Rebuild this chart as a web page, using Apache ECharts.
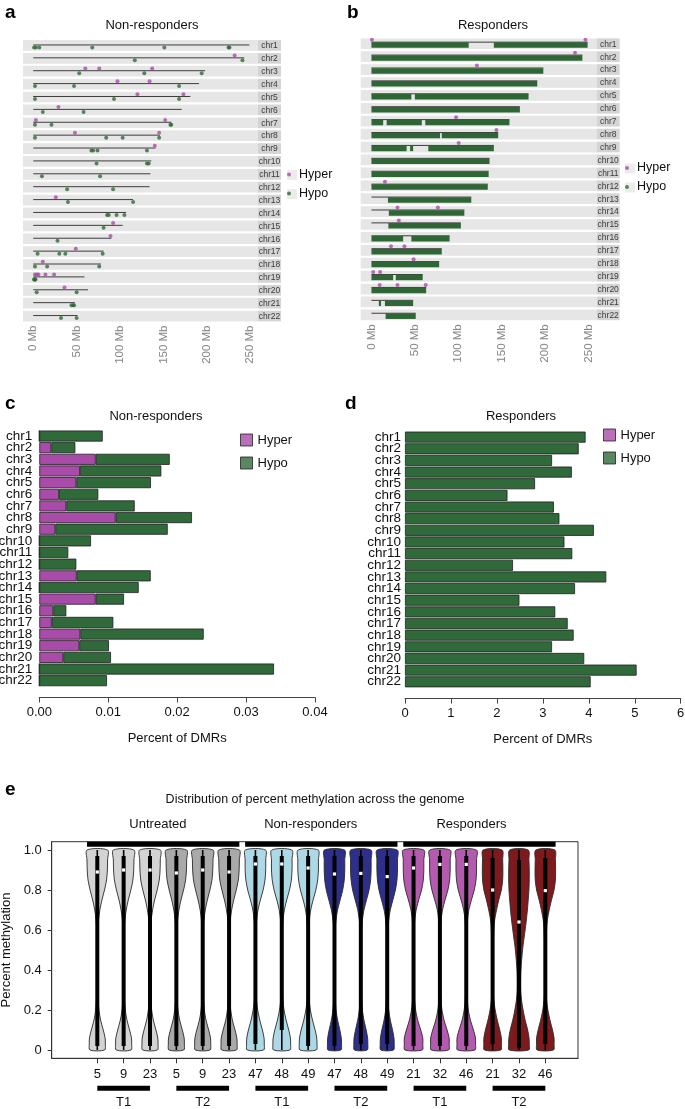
<!DOCTYPE html>
<html><head><meta charset="utf-8">
<script src="https://cdn.jsdelivr.net/npm/echarts@6/dist/echarts.min.js"></script>
<style>html,body{margin:0;padding:0;background:#fff}#c{width:685px;height:1109px}</style>
</head><body><div id="c"></div>
<script>
// ---------------- data ----------------
const chromosomes = ['chr1','chr2','chr3','chr4','chr5','chr6','chr7','chr8','chr9','chr10','chr11','chr12','chr13','chr14','chr15','chr16','chr17','chr18','chr19','chr20','chr21','chr22'];
const chromLengthMb = [249,243,198,191,181,171,159,146,141,136,135,134,115,107,103,90,81,78,59,63,48,51];
const mbTicks = [0,50,100,150,200,250];

// panel a: non-responders DMR positions (chromosome, Mb)
const nrHyperDMR = [['chr2',232],['chr3',60],['chr3',76],['chr3',137],['chr4',97],['chr4',134],['chr5',120],['chr5',173],['chr6',29],['chr7',3],['chr7',152],['chr8',48],['chr8',145],['chr9',140],['chr13',26],['chr15',92],['chr16',89],['chr17',49],['chr18',11],['chr19',2],['chr19',4],['chr19',6],['chr19',14],['chr19',24],['chr20',36]];
const nrHypoDMR = [['chr1',1],['chr1',3],['chr1',7],['chr1',68],['chr1',151],['chr1',225],['chr1',226],['chr2',117],['chr2',241],['chr3',53],['chr3',128],['chr3',194],['chr4',2],['chr4',47],['chr4',168],['chr5',2],['chr5',93],['chr5',168],['chr6',11],['chr6',58],['chr7',2],['chr7',21],['chr7',158],['chr7',159],['chr8',2],['chr8',84],['chr8',103],['chr8',145],['chr9',67],['chr9',69],['chr9',74],['chr9',131],['chr10',73],['chr10',131],['chr10',133],['chr11',10],['chr11',77],['chr12',39],['chr12',92],['chr13',40],['chr13',115],['chr14',85],['chr14',87],['chr14',96],['chr14',105],['chr15',81],['chr16',28],['chr17',5],['chr17',30],['chr17',37],['chr17',80],['chr18',2],['chr18',16],['chr18',76],['chr19',1],['chr19',1.5],['chr19',2],['chr19',2.5],['chr20',4],['chr20',50],['chr21',44],['chr21',46],['chr21',47],['chr22',32],['chr22',50]];

// panel b: responders hyper DMRs and dense hypo DMR runs (chromosome, start Mb, end Mb)
const rHyperDMR = [['chr1',0.5],['chr1',246.5],['chr2',234.5],['chr3',121.5],['chr7',97.5],['chr8',144],['chr9',100.5],['chr12',15.5],['chr14',30],['chr14',76.5],['chr15',31.5],['chr17',22.5],['chr17',38],['chr18',48.5],['chr19',2],['chr19',10],['chr20',9.5],['chr20',30],['chr20',62.5]];
const rHypoRuns = [['chr1',0,112],['chr1',141,249],['chr2',0,243],['chr3',0,198],['chr4',0,191],['chr5',0,46],['chr5',50,181],['chr6',0,171],['chr7',0,13.5],['chr7',17.5,58],['chr7',62,159],['chr8',0,79],['chr8',81,146],['chr9',0,40.5],['chr9',44.5,48],['chr9',65.5,141],['chr10',0,136],['chr11',0,135],['chr12',0,134],['chr13',19,115],['chr14',20,107],['chr15',19.5,103],['chr16',0,36.5],['chr16',46,90],['chr17',0,81],['chr18',0,78],['chr19',0,25],['chr19',28,59],['chr20',0,63],['chr21',8.5,11],['chr21',15.5,48],['chr22',16.3,51]];

// panel c: non-responders percent of DMRs
const nrHyperPct = [0,0.00174,0.00818,0.0059,0.00537,0.00286,0.00392,0.01108,0.00232,0,0,0,0.00542,0,0.00818,0.00203,0.0018,0.00595,0.0058,0.00348,0,0];
const nrHypoPct  = [0.0092,0.00349,0.01074,0.0118,0.01083,0.0057,0.00992,0.01107,0.01631,0.0075,0.0042,0.00537,0.01074,0.01442,0.00411,0.00189,0.00894,0.0179,0.0043,0.00692,0.03405,0.00982];
// panel d: responders percent of DMRs
const rHyperPct = [0,0,0,0,0,0,0,0,0,0,0,0,0,0,0,0,0,0,0,0,0,0];
const rHypoPct  = [3.93,3.78,3.2,3.63,2.83,2.23,3.24,3.36,4.11,3.47,3.64,2.35,4.38,3.70,2.49,3.27,3.54,3.67,3.2,3.90,5.04,4.04];

// panel e: violins
const sampleIds = ['5','9','23','5','9','23','47','48','49','47','48','49','21','32','46','21','32','46'];
const violinGroupColors = ['#d3d3d3','#a9a9a9','#add8e6','#2d2f8a','#b45aaf','#7d1a1d'];
const violinMedian = [0.89,0.90,0.90,0.885,0.90,0.89,0.93,0.93,0.91,0.88,0.883,0.867,0.91,0.928,0.928,0.80,0.64,0.797];
const violinQ1 = [0.02,0.02,0.02,0.02,0.02,0.02,0.03,0.10,0.02,0.02,0.03,0.03,0.02,0.02,0.02,0.03,0.01,0.03];
const violinQ3 = [0.97,0.97,0.97,0.97,0.97,0.97,0.97,0.97,0.97,0.97,0.97,0.97,0.97,0.97,0.97,0.96,0.95,0.96];
const densityLevels = [0,0.03,0.06,0.1,0.15,0.2,0.25,0.3,0.4,0.5,0.6,0.65,0.7,0.75,0.8,0.85,0.9,0.95,1.0];
const densityProfiles = {
  untreated: [0.72,0.78,0.76,0.58,0.32,0.16,0.08,0.05,0.04,0.04,0.06,0.12,0.25,0.45,0.70,0.90,0.98,1.00,1.00],
  nrT1:      [0.80,0.86,0.84,0.68,0.42,0.22,0.10,0.05,0.04,0.04,0.06,0.12,0.25,0.48,0.75,0.93,1.00,1.00,0.98],
  nrT2:      [0.62,0.68,0.66,0.52,0.30,0.15,0.08,0.05,0.04,0.04,0.06,0.15,0.30,0.55,0.80,0.95,1.00,1.00,0.98],
  rT1:       [0.85,0.90,0.90,0.70,0.40,0.20,0.10,0.05,0.04,0.04,0.06,0.12,0.25,0.50,0.78,0.95,1.00,1.00,1.00],
  rT2:       [0.80,0.85,0.85,0.70,0.45,0.25,0.12,0.07,0.05,0.06,0.12,0.20,0.38,0.60,0.85,0.98,1.00,0.98,0.92],
  rT2wide:   [0.95,1.00,0.98,0.85,0.60,0.40,0.25,0.18,0.20,0.35,0.60,0.72,0.82,0.90,0.97,1.00,1.00,0.97,0.90]
};
const violinProfileOf = ['untreated','untreated','untreated','untreated','untreated','untreated','nrT1','nrT1','nrT1','nrT2','nrT2','nrT2','rT1','rT1','rT1','rT2','rT2wide','rT2'];
const groupNames = ['Untreated','Non-responders','Responders'];
const groupSpans = [[1,6],[7,12],[13,18]];
const groupLabelPos = [3.3,9.1,15.2];
const timeNames = ['T1','T2','T1','T2','T1','T2'];
const timeSpans = [[1,3],[4,6],[7,9],[10,12],[13,15],[16,18]];

// ---------------- styling ----------------
const FONT = 'Liberation Sans';
const HYPER = '#a94ba8', HYPO = '#30693a';
const BORDER = '#1f1f1f';

const chart = echarts.init(document.getElementById('c'), null, {width:685, height:1109});

function rowRenderer(lineOff){
  return function(params, api){
    const len = api.value(0), i = api.value(1);
    const cs = params.coordSys;
    const c0 = api.coord([0, i]);
    const cEnd = api.coord([len, i]);
    const band = api.size([0, 1])[1];
    const yTop = c0[1] - band/2 + 1.1, h = band - 2.2;
    return {type:'group', children:[
      {type:'rect', shape:{x:cs.x, y:yTop, width:cs.width, height:h}, style:{fill:'#e6e6e6'}},
      {type:'rect', shape:{x:cs.x+cs.width, y:yTop, width:23, height:h}, style:{fill:'#d4d4d4'}},
      {type:'text', style:{text:chromosomes[i], x:cs.x+cs.width+11.5, y:c0[1]+0.5, align:'center', verticalAlign:'middle', fontSize:8.5, fontFamily:FONT, fill:'#3a3a3a'}},
      {type:'line', shape:{x1:c0[0], y1:c0[1]+lineOff, x2:cEnd[0], y2:c0[1]+lineOff}, style:{stroke:'#2a2a2a', lineWidth:0.9}}
    ]};
  };
}
function renderRun(params, api){
  const s = api.value(0), i = api.value(1), e = api.value(2);
  const p1 = api.coord([s, i]), p2 = api.coord([e, i]);
  return {type:'rect', shape:{x:p1[0], y:p1[1]-1.4, width:Math.max(p2[0]-p1[0],1.5), height:5.5}, style:{fill:'#2f6636'}};
}
function renderViolin(params, api){
  const k = params.dataIndex;
  const pos = api.value(0);
  const prof = densityProfiles[violinProfileOf[k]];
  const half = 0.39;
  const pts = [];
  for (let j = 0; j < densityLevels.length; j++) pts.push(api.coord([pos + prof[j]*half, densityLevels[j]]));
  for (let j = densityLevels.length-1; j >= 0; j--) pts.push(api.coord([pos - prof[j]*half, densityLevels[j]]));
  const lo = api.coord([pos, 0]), hi = api.coord([pos, 1]);
  const q1 = api.coord([pos, violinQ1[k]]), q3 = api.coord([pos, violinQ3[k]]);
  const md = api.coord([pos, violinMedian[k]]);
  return {type:'group', children:[
    {type:'polygon', shape:{points:pts, smooth:0.3}, style:{fill:violinGroupColors[Math.floor(k/3)], stroke:'#2b2b2b', lineWidth:0.9}},
    {type:'line', shape:{x1:lo[0], y1:lo[1], x2:hi[0], y2:hi[1]}, style:{stroke:'#000', lineWidth:1.6}},
    {type:'line', shape:{x1:q1[0], y1:q1[1], x2:q3[0], y2:q3[1]}, style:{stroke:'#000', lineWidth:4}},
    {type:'rect', shape:{x:md[0]-1.6, y:md[1]-1.6, width:3.2, height:3.2}, style:{fill:'#fff'}}
  ]};
}
function renderGroups(params, api){
  const k = params.dataIndex;
  const a = api.value(0), b = api.value(1), lp = api.value(2);
  const cs = params.coordSys;
  const x1 = api.coord([a - 0.39, 0])[0], x2 = api.coord([b + 0.39, 0])[0];
  const xl = api.coord([lp, 0])[0];
  return {type:'group', children:[
    {type:'rect', shape:{x:x1, y:cs.y, width:x2-x1, height:5}, style:{fill:'#000'}},
    {type:'text', style:{text:groupNames[k], x:xl, y:cs.y-17, align:'center', verticalAlign:'middle', fontSize:13, fontFamily:FONT, fill:'#111'}}
  ]};
}
function renderTimes(params, api){
  const k = params.dataIndex;
  const a = api.value(0), b = api.value(1);
  const cs = params.coordSys;
  const x1 = api.coord([a, 0])[0], x2 = api.coord([b, 0])[0];
  const xm = api.coord([(a+b)/2, 0])[0];
  const yb = cs.y + cs.height;
  return {type:'group', children:[
    {type:'rect', shape:{x:x1, y:yb+27.5, width:x2-x1, height:5}, style:{fill:'#000'}},
    {type:'text', style:{text:timeNames[k], x:xm, y:yb+44.5, align:'center', verticalAlign:'middle', fontSize:13, fontFamily:FONT, fill:'#111'}}
  ]};
}

const mbAxis = (grid, min, max) => ({
  gridIndex:grid, type:'value', min:min, max:max,
  axisLine:{show:false}, axisTick:{show:false}, splitLine:{show:false},
  axisLabel:{customValues:mbTicks, rotate:90, formatter:'{value} Mb', color:'#858585', fontSize:11.5, fontFamily:FONT, margin:3, padding:[7,0,0,0]}
});
const chrAxisHidden = (grid) => ({gridIndex:grid, type:'category', data:chromosomes, inverse:true, show:false});
const pctAxis = (grid, max, interval, fmt) => ({
  gridIndex:grid, type:'value', min:0, max:max, interval:interval, offset:11,
  axisLine:{show:true, onZero:false, lineStyle:{color:'#444', width:1}},
  axisTick:{show:true, length:5, lineStyle:{color:'#444'}},
  splitLine:{show:false},
  axisLabel:{formatter:fmt, fontSize:13, color:'#111', fontFamily:FONT, margin:8},
  name:'Percent of DMRs', nameLocation:'middle', nameGap:34,
  nameTextStyle:{fontSize:13, color:'#111', fontFamily:FONT}
});
const chrAxis = (grid, margin) => ({
  gridIndex:grid, type:'category', data:chromosomes, inverse:true,
  axisLine:{show:false}, axisTick:{show:false}, splitLine:{show:false},
  axisLabel:{fontSize:13.5, color:'#111', fontFamily:FONT, margin:margin, interval:0}
});

const legendItem = (name, left, top, icon, color, w, h, fs) => ({
  data:[{name:name, icon:icon, itemStyle:{color:color, borderColor:icon==='rect'?'#222':color, borderWidth:icon==='rect'?1:0}}],
  left:left, top:top, padding:0, itemWidth:w, itemHeight:h, selectedMode:false,
  textStyle:{fontSize:fs, color:'#111', fontFamily:FONT}
});
const letter = (t, left, top) => ({text:t, left:left, top:top, padding:0, textStyle:{fontSize:19, fontWeight:'bold', color:'#000', fontFamily:FONT}});
const heading = (t, left, top, fs) => ({text:t, left:left, top:top, padding:0, textAlign:'center', textStyle:{fontSize:fs, fontWeight:'normal', color:'#111', fontFamily:FONT}});

const option = {
  animation:false,
  backgroundColor:'#fff',
  textStyle:{fontFamily:FONT},
  title:[
    letter('a', 5, 3), letter('b', 347, 3), letter('c', 5, 394), letter('d', 345, 394), letter('e', 5, 780),
    heading('Non-responders', 152, 18.5, 13),
    heading('Responders', 493, 18.5, 13),
    heading('Non-responders', 156, 410, 13),
    heading('Responders', 521, 410, 13),
    heading('Distribution of percent methylation across the genome', 315, 793, 12.5)
  ],
  legend:[
    legendItem('Hyper', 287, 168, 'circle', HYPER, 10, 4, 12.5),
    legendItem('Hypo', 287, 187, 'circle', HYPO, 10, 4, 12.5),
    legendItem('Hyper', 625, 161.5, 'circle', HYPER, 10, 4, 12.5),
    legendItem('Hypo', 625, 180.5, 'circle', HYPO, 10, 4, 12.5),
    legendItem('Hyper', 240, 433.5, 'rect', HYPER, 12, 12, 13),
    legendItem('Hypo', 240, 456.5, 'rect', HYPO, 12, 12, 13),
    legendItem('Hyper', 603, 428.5, 'rect', HYPER, 12, 12, 13),
    legendItem('Hypo', 603, 451.5, 'rect', HYPO, 12, 12, 13)
  ],
  graphic:[
    {type:'rect', shape:{x:287, y:170, width:10, height:10}, style:{fill:'#ececec'}, z:-1},
    {type:'rect', shape:{x:287, y:189, width:10, height:10}, style:{fill:'#ececec'}, z:-1},
    {type:'rect', shape:{x:625, y:163.5, width:10, height:10}, style:{fill:'#ececec'}, z:-1},
    {type:'rect', shape:{x:625, y:182.5, width:10, height:10}, style:{fill:'#ececec'}, z:-1}
  ],
  grid:[
    {left:23, top:39, width:235, height:283.5, outerBoundsMode:'none'},
    {left:360.7, top:37.3, width:236, height:284, outerBoundsMode:'none'},
    {left:39.3, top:430.2, width:275.7, height:256.3, outerBoundsMode:'none'},
    {left:405, top:431.3, width:275.7, height:256.3, outerBoundsMode:'none'},
    {left:51.7, top:841.7, width:526.3, height:216.6, show:true, borderColor:'#333', borderWidth:1, backgroundColor:'rgba(0,0,0,0)', outerBoundsMode:'none'}
  ],
  xAxis:[
    mbAxis(0, -11.8, 258.9),
    mbAxis(1, -12.4, 259.5),
    pctAxis(2, 0.04, 0.01, v => v.toFixed(2)),
    pctAxis(3, 6, 1, v => String(v)),
    {gridIndex:4, type:'value', min:-0.73, max:19.24, position:'bottom',
     axisLine:{show:true, onZero:false, lineStyle:{color:'#333', width:1}}, splitLine:{show:false},
     axisTick:{show:true, inside:false, customValues:[1,2,3,4,5,6,7,8,9,10,11,12,13,14,15,16,17,18], length:5, lineStyle:{color:'#333'}},
     axisLabel:{customValues:[1,2,3,4,5,6,7,8,9,10,11,12,13,14,15,16,17,18], formatter:v => sampleIds[Math.round(v)-1], fontSize:13, color:'#111', fontFamily:FONT, margin:10}}
  ],
  yAxis:[
    chrAxisHidden(0),
    chrAxisHidden(1),
    chrAxis(2, 7),
    chrAxis(3, 4),
    {gridIndex:4, type:'value', min:-0.0415, max:1.0415, position:'left',
     axisLine:{show:true, onZero:false, lineStyle:{color:'#333', width:1}}, splitLine:{show:false},
     axisTick:{show:true, inside:false, customValues:[0,0.2,0.4,0.6,0.8,1], length:4, lineStyle:{color:'#333'}},
     axisLabel:{customValues:[0,0.2,0.4,0.6,0.8,1], formatter:v => v === 0 ? '0' : v.toFixed(1), fontSize:13, color:'#111', fontFamily:FONT, margin:10},
     name:'Percent methylation', nameLocation:'middle', nameGap:32, nameTextStyle:{fontSize:13, color:'#111', fontFamily:FONT}}
  ],
  series:[
    {type:'custom', name:'rowsA', xAxisIndex:0, yAxisIndex:0, renderItem:rowRenderer(-0.5), data:chromLengthMb.map((l,i)=>[l,i]), silent:true, z:1},
    {type:'scatter', name:'Hyper', xAxisIndex:0, yAxisIndex:0, data:nrHyperDMR.map(d=>[d[1], d[0]]), symbolSize:4, symbolOffset:[0,-2.8], itemStyle:{color:HYPER}, z:3},
    {type:'scatter', name:'Hypo', xAxisIndex:0, yAxisIndex:0, data:nrHypoDMR.map(d=>[d[1], d[0]]), symbolSize:4, symbolOffset:[0,2], itemStyle:{color:HYPO}, z:3},
    {type:'custom', name:'rowsB', xAxisIndex:1, yAxisIndex:1, renderItem:rowRenderer(-1.6), data:chromLengthMb.map((l,i)=>[l,i]), silent:true, z:1},
    {type:'custom', name:'Hypo', xAxisIndex:1, yAxisIndex:1, renderItem:renderRun, encode:{x:[0,2], y:1}, data:rHypoRuns.map(d=>[d[1], chromosomes.indexOf(d[0]), d[2]]), z:2},
    {type:'scatter', name:'Hyper', xAxisIndex:1, yAxisIndex:1, data:rHyperDMR.map(d=>[d[1], d[0]]), symbolSize:4, symbolOffset:[0,-4], itemStyle:{color:HYPER}, z:3},
    {type:'bar', name:'Hyper', xAxisIndex:2, yAxisIndex:2, stack:'c', data:nrHyperPct, barCategoryGap:'5%', itemStyle:{color:HYPER, borderColor:BORDER, borderWidth:0.8}},
    {type:'bar', name:'Hypo', xAxisIndex:2, yAxisIndex:2, stack:'c', data:nrHypoPct, barCategoryGap:'5%', itemStyle:{color:HYPO, borderColor:BORDER, borderWidth:0.8}},
    {type:'bar', name:'Hyper', xAxisIndex:3, yAxisIndex:3, stack:'d', data:rHyperPct, barCategoryGap:'5%', itemStyle:{color:HYPER, borderWidth:0}},
    {type:'bar', name:'Hypo', xAxisIndex:3, yAxisIndex:3, stack:'d', data:rHypoPct, barCategoryGap:'5%', itemStyle:{color:HYPO, borderColor:BORDER, borderWidth:0.8}},
    {type:'custom', name:'violins', xAxisIndex:4, yAxisIndex:4, renderItem:renderViolin, data:sampleIds.map((s,i)=>[i+1, violinMedian[i]]), z:3},
    {type:'custom', name:'groups', xAxisIndex:4, yAxisIndex:4, renderItem:renderGroups, data:groupSpans.map((g,i)=>[g[0], g[1], groupLabelPos[i]]), z:4, silent:true},
    {type:'custom', name:'times', xAxisIndex:4, yAxisIndex:4, renderItem:renderTimes, data:timeSpans.map(t=>[t[0], t[1]]), z:4, silent:true}
  ]
};
chart.setOption(option);
</script>
</body></html>
